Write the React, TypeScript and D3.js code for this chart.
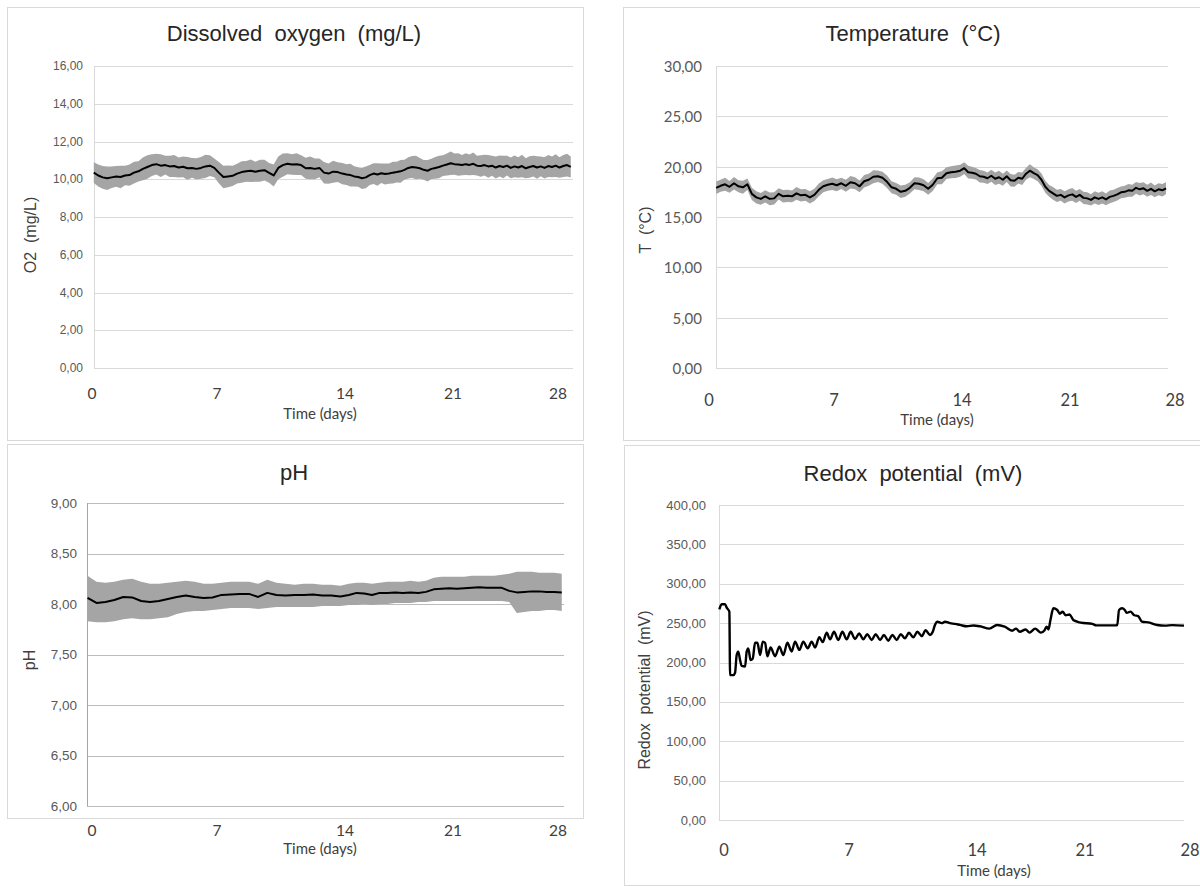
import React from "react";
import * as d3 from "d3";

// ---------- data ----------
const xTickValues = [0, 7, 14, 21, 28];
const xTickLabels = ["0", "7", "14", "21", "28"];

// Dissolved oxygen (mg/L): mean and half-width of the grey band, sampled every 0.25 day
const doStartDay = 0.1;
const doStepDays = 0.25;
const doMean = [
  10.35, 10.2, 10.1, 10.05, 10.1, 10.15, 10.12, 10.2, 10.22, 10.35,
  10.42, 10.55, 10.65, 10.75, 10.8, 10.72, 10.75, 10.68, 10.7, 10.62,
  10.66, 10.58, 10.6, 10.55, 10.6, 10.68, 10.72, 10.6, 10.35, 10.12,
  10.15, 10.18, 10.3, 10.38, 10.42, 10.45, 10.4, 10.45, 10.48, 10.34,
  10.2, 10.6, 10.75, 10.82, 10.78, 10.8, 10.75, 10.58, 10.6, 10.55,
  10.6, 10.35, 10.3, 10.4, 10.38, 10.3, 10.25, 10.22, 10.15, 10.12,
  10.05, 10.1, 10.22, 10.3, 10.25, 10.32, 10.28, 10.3, 10.35, 10.38,
  10.42, 10.5, 10.6, 10.65, 10.62, 10.58, 10.5, 10.45, 10.55, 10.6,
  10.65, 10.72, 10.78, 10.85, 10.8, 10.78, 10.75, 10.8, 10.76, 10.82,
  10.72, 10.7, 10.75, 10.68, 10.72, 10.62, 10.7, 10.65, 10.72, 10.6,
  10.68, 10.62, 10.7, 10.58, 10.65, 10.7, 10.62, 10.68, 10.6, 10.7,
  10.65, 10.72, 10.62, 10.7, 10.75, 10.65,
];
const doSpread = [
  0.55, 0.58, 0.6, 0.62, 0.57, 0.55, 0.6, 0.52, 0.56, 0.58,
  0.54, 0.6, 0.62, 0.58, 0.55, 0.6, 0.5, 0.56, 0.58, 0.53,
  0.55, 0.6, 0.52, 0.56, 0.58, 0.62, 0.55, 0.5, 0.56, 0.6,
  0.58, 0.54, 0.52, 0.57, 0.55, 0.6, 0.53, 0.58, 0.55, 0.52,
  0.58, 0.6, 0.62, 0.56, 0.54, 0.58, 0.52, 0.56, 0.6, 0.55,
  0.5, 0.57, 0.54, 0.58, 0.52, 0.56, 0.55, 0.6, 0.54, 0.52,
  0.56, 0.58, 0.53, 0.55, 0.6, 0.52, 0.56, 0.54, 0.58, 0.55,
  0.6, 0.53, 0.56, 0.58, 0.62, 0.55, 0.52, 0.57, 0.54, 0.58,
  0.6, 0.55, 0.58, 0.62, 0.56, 0.6, 0.54, 0.58, 0.55, 0.6,
  0.52, 0.57, 0.55, 0.6, 0.53, 0.58, 0.56, 0.6, 0.52, 0.55,
  0.58, 0.54, 0.6, 0.53, 0.57, 0.55, 0.6, 0.52, 0.56, 0.58,
  0.55, 0.6, 0.54, 0.58, 0.6, 0.56,
];
const doYTicks = [0, 2, 4, 6, 8, 10, 12, 14, 16];

// Temperature (°C), sampled every 0.25 day
const tempStartDay = 0.4;
const tempStepDays = 0.25;
const tempMean = [
  17.9, 18.1, 18.25, 18.0, 18.35, 18.05, 17.95, 18.25, 17.3, 16.95,
  16.8, 17.05, 16.8, 16.85, 17.3, 17.05, 17.1, 17.05, 17.35, 17.15,
  17.2, 16.95, 17.2, 17.7, 18.05, 18.2, 18.3, 18.15, 18.35, 18.1,
  18.45, 18.35, 18.05, 18.55, 18.7, 19.0, 19.05, 18.9, 18.5, 17.95,
  17.8, 17.5, 17.6, 17.9, 18.35, 18.3, 18.15, 17.8, 18.2, 18.85,
  18.9, 19.35, 19.45, 19.5, 19.6, 19.85, 19.45, 19.4, 19.3, 19.05,
  19.0, 18.85, 19.1, 18.8, 18.95, 18.7, 19.05, 18.65, 18.6, 18.9,
  18.8, 19.3, 19.6, 19.35, 19.15, 18.7, 18.0, 17.6, 17.35, 17.1,
  17.2, 16.95, 17.15, 17.25, 17.0, 17.2, 16.9, 16.85, 16.7, 16.95,
  16.8, 16.95, 16.75, 17.0, 17.1, 17.25, 17.45, 17.5, 17.65, 17.6,
  17.9, 17.75, 17.85, 17.6, 17.8, 17.55, 17.75, 17.65, 17.85,
];
const tempSpread = [
  0.62, 0.6, 0.65, 0.58, 0.62, 0.6, 0.64, 0.58, 0.6, 0.62,
  0.58, 0.6, 0.64, 0.6, 0.56, 0.62, 0.6, 0.58, 0.63, 0.6,
  0.58, 0.62, 0.6, 0.64, 0.6, 0.58, 0.62, 0.6, 0.56, 0.6,
  0.63, 0.6, 0.58, 0.62, 0.6, 0.64, 0.58, 0.6, 0.62, 0.6,
  0.58, 0.62, 0.6, 0.56, 0.6, 0.63, 0.6, 0.58, 0.62, 0.6,
  0.64, 0.58, 0.6, 0.62, 0.6, 0.58, 0.63, 0.6, 0.58, 0.62,
  0.6, 0.56, 0.6, 0.62, 0.64, 0.6, 0.58, 0.62, 0.6, 0.58,
  0.62, 0.6, 0.64, 0.58, 0.6, 0.62, 0.6, 0.58, 0.63, 0.6,
  0.58, 0.62, 0.6, 0.64, 0.6, 0.58, 0.62, 0.6, 0.56, 0.6,
  0.62, 0.6, 0.58, 0.63, 0.6, 0.62, 0.58, 0.6, 0.64, 0.6,
  0.58, 0.62, 0.6, 0.6, 0.62, 0.58, 0.6, 0.62, 0.6,
];
const tempYTicks = [0, 5, 10, 15, 20, 25, 30];

// pH, sampled every 0.5 day: mean, band high and band low
const phStartDay = -0.25;
const phStepDays = 0.5;
const phMean = [
  8.06, 8.01, 8.02, 8.04, 8.07, 8.065, 8.03, 8.02, 8.03, 8.05,
  8.07, 8.085, 8.07, 8.06, 8.065, 8.09, 8.095, 8.1, 8.1, 8.07,
  8.11, 8.09, 8.085, 8.09, 8.09, 8.095, 8.085, 8.085, 8.075, 8.09,
  8.11, 8.105, 8.09, 8.11, 8.11, 8.115, 8.11, 8.115, 8.11, 8.12,
  8.145, 8.15, 8.155, 8.15, 8.155, 8.16, 8.165, 8.16, 8.16, 8.16,
  8.13, 8.115, 8.12, 8.125, 8.125, 8.12, 8.12, 8.115,
];
const phHigh = [
  8.28, 8.22, 8.21, 8.22, 8.24, 8.25, 8.22, 8.2, 8.2, 8.21,
  8.22, 8.23, 8.22, 8.2, 8.2, 8.21, 8.22, 8.22, 8.22, 8.2,
  8.24, 8.21, 8.2, 8.19, 8.2, 8.2, 8.19, 8.19, 8.18, 8.2,
  8.21, 8.21, 8.2, 8.21, 8.22, 8.22, 8.22, 8.23, 8.22, 8.23,
  8.26, 8.27, 8.27, 8.27, 8.27, 8.28, 8.28, 8.28, 8.28, 8.29,
  8.3, 8.32, 8.32, 8.32, 8.31, 8.31, 8.31, 8.3,
];
const phLow = [
  7.83, 7.82, 7.82, 7.83, 7.85, 7.86, 7.85, 7.85, 7.86, 7.87,
  7.9, 7.92, 7.93, 7.93, 7.94, 7.95, 7.96, 7.96, 7.96, 7.95,
  7.96, 7.97, 7.97, 7.97, 7.97, 7.97, 7.98, 7.98, 7.98, 7.99,
  7.99, 8.0, 7.99, 8.0, 8.0, 8.01, 8.01, 8.01, 8.02, 8.02,
  8.03, 8.03, 8.03, 8.03, 8.03, 8.03, 8.03, 8.03, 8.03, 8.03,
  8.02, 7.91, 7.92, 7.93, 7.93, 7.94, 7.94, 7.93,
];
const phYTicks = [6, 6.5, 7, 7.5, 8, 8.5, 9];

// Redox potential (mV): [day, mV]
const redoxSeries: [number, number][] = [
  [-0.26, 267.5], [-0.13, 273.9], [0.06, 274], [0.15, 269.7], [0.3, 264.5],
  [0.34, 184], [0.52, 184], [0.62, 187], [0.71, 209.5], [0.8, 213.8],
  [0.9, 203], [0.99, 195.6], [1.18, 195], [1.27, 213.8], [1.36, 218],
  [1.49, 203], [1.61, 205], [1.74, 225], [1.87, 225], [2.02, 209.5],
  [2.17, 226.5], [2.3, 225], [2.43, 208], [2.61, 219], [2.86, 208],
  [3.1, 220], [3.32, 209.5], [3.55, 225], [3.79, 214], [3.98, 226.5],
  [4.22, 216], [4.44, 226.5], [4.69, 218], [4.91, 226.5], [5.1, 219],
  [5.34, 232], [5.53, 226], [5.75, 237.8], [5.94, 229.4], [6.16, 239],
  [6.4, 228.6], [6.63, 239], [6.87, 229.4], [7.09, 239], [7.33, 229.8],
  [7.55, 237], [7.78, 229.4], [8.0, 236], [8.24, 228.6], [8.46, 236],
  [8.7, 228.6], [8.91, 235], [9.15, 227.7], [9.37, 235], [9.61, 228.6],
  [9.83, 236], [10.06, 230.7], [10.28, 237.8], [10.52, 231.9], [10.74, 239],
  [10.98, 233.5], [11.19, 241], [11.43, 235], [11.58, 239], [11.7, 247.7],
  [11.83, 251.8], [12.07, 250], [12.25, 251.8], [12.52, 250], [12.8, 249],
  [13.07, 247.7], [13.44, 246], [13.8, 247], [14.19, 246], [14.8, 243],
  [15.3, 247.6], [15.79, 245.5], [16.28, 240.4], [16.53, 243], [16.77, 239],
  [17.15, 242], [17.4, 238], [17.77, 243], [18.14, 238], [18.38, 241],
  [18.51, 245.5], [18.63, 242], [18.76, 254], [18.95, 268.8], [19.2, 266.7],
  [19.37, 262], [19.55, 264.6], [19.74, 260], [20.0, 261], [20.24, 254],
  [20.49, 252], [20.73, 250.6], [21.49, 249], [21.75, 247.2], [23.02, 247.2],
  [23.15, 247.6], [23.27, 266.7], [23.47, 268.8], [23.65, 266.7], [23.78, 263],
  [24.03, 264.6], [24.29, 260], [24.54, 259], [24.79, 252], [25.31, 250.6],
  [25.81, 247.6], [26.33, 246.8], [26.83, 247.5], [27.6, 246.8],
];
const redoxYTicks = [0, 50, 100, 150, 200, 250, 300, 350, 400];

// ---------- layout ----------
const W = 1200;
const H = 886;
// pixel offsets of the five day labels from the "0" label (the reference axis is uneven)
const tickOffsets = [0, 125, 253, 361, 466];

type PanelCfg = {
  frame: [number, number, number, number];
  plot: { l: number; r: number; t: number; b: number };
  label0: number;
  xLabelY: number;
  xTitle: [number, number];
  title: string;
  titlePos: [number, number];
  yLabel: string;
  yLabelPos: [number, number];
  yTickRight: number;
  yTickFont: string;
  yTickSize: number;
  xTickSize: number;
  yDomain: [number, number];
  yTicks: number[];
  grid: string;
  axis: string;
  band?: { days: number[]; lo: number[]; hi: number[] };
  line: [number, number][];
  lineWidth: number;
  curve: d3.CurveFactory;
};

const fmt = (v: number) => v.toFixed(2).replace(".", ",");

function seriesDays(start: number, step: number, n: number) {
  return d3.range(n).map((i) => start + i * step);
}

const doDays = seriesDays(doStartDay, doStepDays, Math.min(doMean.length, doSpread.length));
const tempDays = seriesDays(tempStartDay, tempStepDays, Math.min(tempMean.length, tempSpread.length));
const phDays = seriesDays(phStartDay, phStepDays, Math.min(phMean.length, phHigh.length, phLow.length));

const panels: PanelCfg[] = [
  {
    frame: [7.5, 7.5, 576, 433],
    plot: { l: 94, r: 573, t: 66, b: 368 },
    label0: 92,
    xLabelY: 393,
    xTitle: [320, 413],
    title: "Dissolved  oxygen  (mg/L)",
    titlePos: [294, 33],
    yLabel: "O2  (mg/L)",
    yLabelPos: [30, 235],
    yTickRight: 83,
    yTickFont: "'Liberation Sans', Arial, sans-serif",
    yTickSize: 12,
    xTickSize: 15.5,
    yDomain: [0, 16],
    yTicks: doYTicks,
    grid: "#d9d9d9",
    axis: "#d9d9d9",
    band: {
      days: doDays,
      lo: doDays.map((_, i) => doMean[i] - doSpread[i]),
      hi: doDays.map((_, i) => doMean[i] + doSpread[i]),
    },
    line: doDays.map((d, i) => [d, doMean[i]]),
    lineWidth: 2,
    curve: d3.curveLinear,
  },
  {
    frame: [623.5, 7.5, 600, 433],
    plot: { l: 716, r: 1168, t: 66, b: 368 },
    label0: 709,
    xLabelY: 400,
    xTitle: [937, 419],
    title: "Temperature  (°C)",
    titlePos: [913, 33],
    yLabel: "T  (°C)",
    yLabelPos: [645, 230],
    yTickRight: 702,
    yTickFont: "Lato, 'Open Sans', sans-serif",
    yTickSize: 15,
    xTickSize: 16.5,
    yDomain: [0, 30],
    yTicks: tempYTicks,
    grid: "#d9d9d9",
    axis: "#d9d9d9",
    band: {
      days: tempDays,
      lo: tempDays.map((_, i) => tempMean[i] - tempSpread[i]),
      hi: tempDays.map((_, i) => tempMean[i] + tempSpread[i]),
    },
    line: tempDays.map((d, i) => [d, tempMean[i]]),
    lineWidth: 2,
    curve: d3.curveLinear,
  },
  {
    frame: [7.5, 444.5, 576, 374],
    plot: { l: 87, r: 564, t: 503, b: 806 },
    label0: 92,
    xLabelY: 830,
    xTitle: [320, 848],
    title: "pH",
    titlePos: [294, 472],
    yLabel: "pH",
    yLabelPos: [29, 660],
    yTickRight: 77,
    yTickFont: "'Liberation Sans', Arial, sans-serif",
    yTickSize: 13.5,
    xTickSize: 15.5,
    yDomain: [6, 9],
    yTicks: phYTicks,
    grid: "#bcbcbc",
    axis: "#a6a6a6",
    band: { days: phDays, lo: phLow, hi: phHigh },
    line: phDays.map((d, i) => [d, phMean[i]]),
    lineWidth: 2,
    curve: d3.curveLinear,
  },
  {
    frame: [624.5, 445.5, 600, 440],
    plot: { l: 719, r: 1184, t: 505, b: 820 },
    label0: 724,
    xLabelY: 850,
    xTitle: [994, 870],
    title: "Redox  potential  (mV)",
    titlePos: [913, 473],
    yLabel: "Redox  potential  (mV)",
    yLabelPos: [644, 690],
    yTickRight: 706,
    yTickFont: "'Liberation Sans', Arial, sans-serif",
    yTickSize: 13,
    xTickSize: 16.5,
    yDomain: [0, 400],
    yTicks: redoxYTicks,
    grid: "#d9d9d9",
    axis: "#d9d9d9",
    line: redoxSeries,
    lineWidth: 2.4,
    curve: d3.curveMonotoneX,
  },
];

const TITLE_FONT = "'Liberation Sans', Arial, sans-serif";
const CAL_FONT = "Lato, 'Open Sans', sans-serif";

function Panel({ cfg }: { cfg: PanelCfg }) {
  const { plot } = cfg;
  const x = d3
    .scaleLinear()
    .domain(xTickValues)
    .range(tickOffsets.map((o) => cfg.label0 + o));
  const y = d3.scaleLinear().domain(cfg.yDomain).range([plot.b, plot.t]);

  const linePath = d3
    .line<[number, number]>()
    .x((d) => x(d[0]))
    .y((d) => y(d[1]))
    .curve(cfg.curve)(cfg.line);

  let bandPath: string | null = null;
  if (cfg.band) {
    const b = cfg.band;
    const n = Math.min(b.days.length, b.lo.length, b.hi.length);
    bandPath = d3
      .area<number>()
      .x((i) => x(b.days[i]))
      .y0((i) => y(b.lo[i]))
      .y1((i) => y(b.hi[i]))(d3.range(n));
  }

  const [fx, fy, fw, fh] = cfg.frame;
  return (
    <g>
      <rect x={fx} y={fy} width={fw} height={fh} fill="#ffffff" stroke="#d9d9d9" strokeWidth={1} />
      {cfg.yTicks.map((t) => {
        const yy = Math.round(y(t)) + 0.5;
        return (
          <line key={"g" + t} x1={plot.l} x2={plot.r} y1={yy} y2={yy} stroke={cfg.grid} strokeWidth={1} />
        );
      })}
      <line
        x1={Math.round(plot.l) + 0.5}
        x2={Math.round(plot.l) + 0.5}
        y1={plot.t}
        y2={plot.b}
        stroke={cfg.axis}
        strokeWidth={1}
      />
      {bandPath && <path d={bandPath} fill="#a5a5a5" stroke="none" />}
      {linePath && (
        <path d={linePath} fill="none" stroke="#000000" strokeWidth={cfg.lineWidth} strokeLinejoin="round" />
      )}
      {cfg.yTicks.map((t) => (
        <text
          key={"yl" + t}
          x={cfg.yTickRight}
          y={y(t)}
          textAnchor="end"
          dominantBaseline="central"
          fontFamily={cfg.yTickFont}
          fontSize={cfg.yTickSize}
          fill="#595959"
        >
          {fmt(t)}
        </text>
      ))}
      {xTickValues.map((t, i) => (
        <text
          key={"xl" + t}
          x={x(t)}
          y={cfg.xLabelY}
          textAnchor="middle"
          dominantBaseline="central"
          fontFamily={CAL_FONT}
          fontSize={cfg.xTickSize}
          fill="#404040"
        >
          {xTickLabels[i]}
        </text>
      ))}
      <text
        x={cfg.xTitle[0]}
        y={cfg.xTitle[1]}
        textAnchor="middle"
        dominantBaseline="central"
        fontFamily={CAL_FONT}
        fontSize={15}
        fill="#404040"
      >
        Time (days)
      </text>
      <text
        x={cfg.titlePos[0]}
        y={cfg.titlePos[1]}
        textAnchor="middle"
        dominantBaseline="central"
        fontFamily={TITLE_FONT}
        fontSize={22}
        fill="#262626"
        style={{ whiteSpace: "pre" }}
      >
        {cfg.title}
      </text>
      <text
        transform={`translate(${cfg.yLabelPos[0]},${cfg.yLabelPos[1]}) rotate(-90)`}
        textAnchor="middle"
        dominantBaseline="central"
        fontFamily={TITLE_FONT}
        fontSize={16}
        fill="#404040"
        style={{ whiteSpace: "pre" }}
      >
        {cfg.yLabel}
      </text>
    </g>
  );
}

export default function App() {
  return (
    <svg
      width={W}
      height={H}
      viewBox={`0 0 ${W} ${H}`}
      style={{ position: "absolute", left: 0, top: 0, display: "block", background: "#ffffff" }}
    >
      <rect x={0} y={0} width={W} height={H} fill="#ffffff" />
      {panels.map((p, i) => (
        <Panel key={i} cfg={p} />
      ))}
    </svg>
  );
}
